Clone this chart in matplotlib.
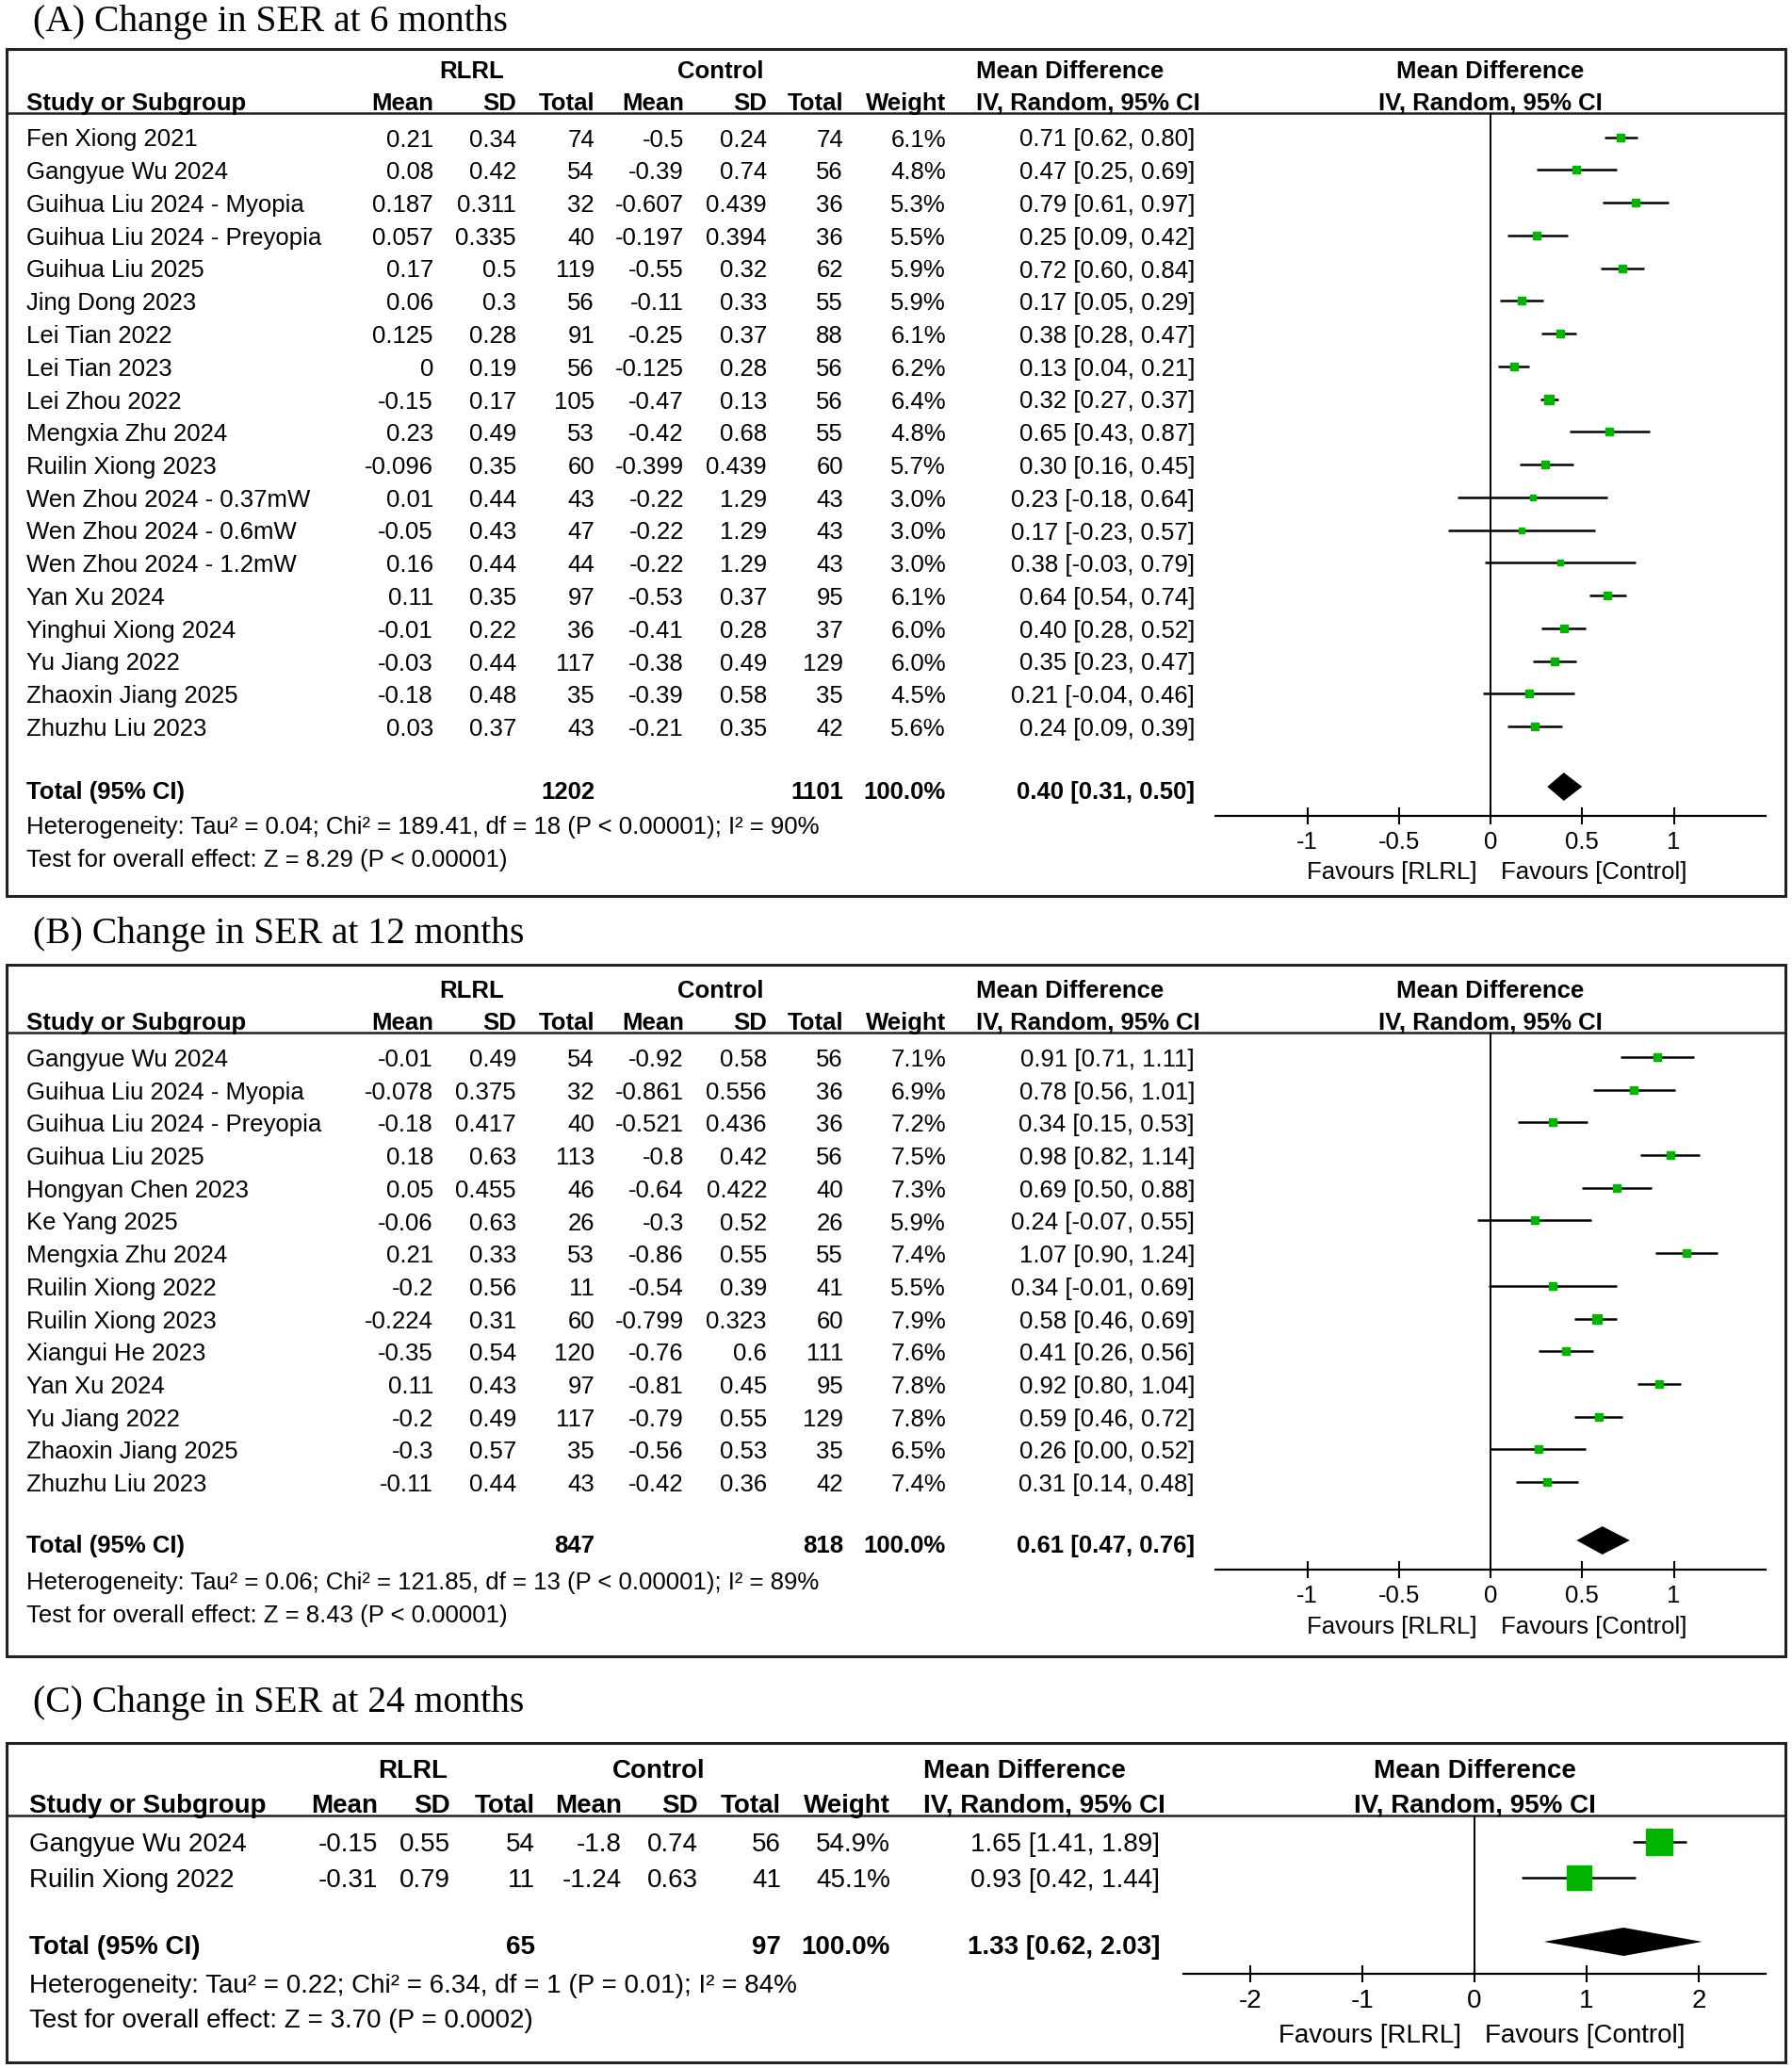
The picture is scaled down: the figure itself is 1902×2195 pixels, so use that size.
import matplotlib
matplotlib.use("Agg")
import matplotlib.pyplot as plt
from matplotlib.patches import Rectangle

# ===============================
# DATA
# ===============================
# (A) 6 months
studies_a = ["Fen Xiong 2021", "Gangyue Wu 2024", "Guihua Liu 2024 - Myopia",
             "Guihua Liu 2024 - Preyopia", "Guihua Liu 2025", "Jing Dong 2023",
             "Lei Tian 2022", "Lei Tian 2023", "Lei Zhou 2022", "Mengxia Zhu 2024",
             "Ruilin Xiong 2023", "Wen Zhou 2024 - 0.37mW", "Wen Zhou 2024 - 0.6mW",
             "Wen Zhou 2024 - 1.2mW", "Yan Xu 2024", "Yinghui Xiong 2024",
             "Yu Jiang 2022", "Zhaoxin Jiang 2025", "Zhuzhu Liu 2023"]
rlrl_mean_a = ["0.21", "0.08", "0.187", "0.057", "0.17", "0.06", "0.125", "0", "-0.15", "0.23",
               "-0.096", "0.01", "-0.05", "0.16", "0.11", "-0.01", "-0.03", "-0.18", "0.03"]
rlrl_sd_a = ["0.34", "0.42", "0.311", "0.335", "0.5", "0.3", "0.28", "0.19", "0.17", "0.49",
             "0.35", "0.44", "0.43", "0.44", "0.35", "0.22", "0.44", "0.48", "0.37"]
rlrl_n_a = [74, 54, 32, 40, 119, 56, 91, 56, 105, 53, 60, 43, 47, 44, 97, 36, 117, 35, 43]
ctrl_mean_a = ["-0.5", "-0.39", "-0.607", "-0.197", "-0.55", "-0.11", "-0.25", "-0.125", "-0.47",
               "-0.42", "-0.399", "-0.22", "-0.22", "-0.22", "-0.53", "-0.41", "-0.38", "-0.39", "-0.21"]
ctrl_sd_a = ["0.24", "0.74", "0.439", "0.394", "0.32", "0.33", "0.37", "0.28", "0.13", "0.68",
             "0.439", "1.29", "1.29", "1.29", "0.37", "0.28", "0.49", "0.58", "0.35"]
ctrl_n_a = [74, 56, 36, 36, 62, 55, 88, 56, 56, 55, 60, 43, 43, 43, 95, 37, 129, 35, 42]
weight_a = [6.1, 4.8, 5.3, 5.5, 5.9, 5.9, 6.1, 6.2, 6.4, 4.8, 5.7, 3.0, 3.0, 3.0, 6.1, 6.0, 6.0, 4.5, 5.6]
md_a = [0.71, 0.47, 0.79, 0.25, 0.72, 0.17, 0.38, 0.13, 0.32, 0.65, 0.30, 0.23, 0.17, 0.38,
        0.64, 0.40, 0.35, 0.21, 0.24]
lo_a = [0.62, 0.25, 0.61, 0.09, 0.60, 0.05, 0.28, 0.04, 0.27, 0.43, 0.16, -0.18, -0.23, -0.03,
        0.54, 0.28, 0.23, -0.04, 0.09]
hi_a = [0.80, 0.69, 0.97, 0.42, 0.84, 0.29, 0.47, 0.21, 0.37, 0.87, 0.45, 0.64, 0.57, 0.79,
        0.74, 0.52, 0.47, 0.46, 0.39]
total_a = [1202, 1101, 0.40, 0.31, 0.50]
het_a = "Heterogeneity: Tau\u00b2 = 0.04; Chi\u00b2 = 189.41, df = 18 (P < 0.00001); I\u00b2 = 90%"
test_a = "Test for overall effect: Z = 8.29 (P < 0.00001)"

# (B) 12 months
studies_b = ["Gangyue Wu 2024", "Guihua Liu 2024 - Myopia", "Guihua Liu 2024 - Preyopia",
             "Guihua Liu 2025", "Hongyan Chen 2023", "Ke Yang 2025", "Mengxia Zhu 2024",
             "Ruilin Xiong 2022", "Ruilin Xiong 2023", "Xiangui He 2023", "Yan Xu 2024",
             "Yu Jiang 2022", "Zhaoxin Jiang 2025", "Zhuzhu Liu 2023"]
rlrl_mean_b = ["-0.01", "-0.078", "-0.18", "0.18", "0.05", "-0.06", "0.21", "-0.2", "-0.224",
               "-0.35", "0.11", "-0.2", "-0.3", "-0.11"]
rlrl_sd_b = ["0.49", "0.375", "0.417", "0.63", "0.455", "0.63", "0.33", "0.56", "0.31", "0.54",
             "0.43", "0.49", "0.57", "0.44"]
rlrl_n_b = [54, 32, 40, 113, 46, 26, 53, 11, 60, 120, 97, 117, 35, 43]
ctrl_mean_b = ["-0.92", "-0.861", "-0.521", "-0.8", "-0.64", "-0.3", "-0.86", "-0.54", "-0.799",
               "-0.76", "-0.81", "-0.79", "-0.56", "-0.42"]
ctrl_sd_b = ["0.58", "0.556", "0.436", "0.42", "0.422", "0.52", "0.55", "0.39", "0.323", "0.6",
             "0.45", "0.55", "0.53", "0.36"]
ctrl_n_b = [56, 36, 36, 56, 40, 26, 55, 41, 60, 111, 95, 129, 35, 42]
weight_b = [7.1, 6.9, 7.2, 7.5, 7.3, 5.9, 7.4, 5.5, 7.9, 7.6, 7.8, 7.8, 6.5, 7.4]
md_b = [0.91, 0.78, 0.34, 0.98, 0.69, 0.24, 1.07, 0.34, 0.58, 0.41, 0.92, 0.59, 0.26, 0.31]
lo_b = [0.71, 0.56, 0.15, 0.82, 0.50, -0.07, 0.90, -0.01, 0.46, 0.26, 0.80, 0.46, 0.00, 0.14]
hi_b = [1.11, 1.01, 0.53, 1.14, 0.88, 0.55, 1.24, 0.69, 0.69, 0.56, 1.04, 0.72, 0.52, 0.48]
total_b = [847, 818, 0.61, 0.47, 0.76]
het_b = "Heterogeneity: Tau\u00b2 = 0.06; Chi\u00b2 = 121.85, df = 13 (P < 0.00001); I\u00b2 = 89%"
test_b = "Test for overall effect: Z = 8.43 (P < 0.00001)"

# (C) 24 months
studies_c = ["Gangyue Wu 2024", "Ruilin Xiong 2022"]
rlrl_mean_c = ["-0.15", "-0.31"]
rlrl_sd_c = ["0.55", "0.79"]
rlrl_n_c = [54, 11]
ctrl_mean_c = ["-1.8", "-1.24"]
ctrl_sd_c = ["0.74", "0.63"]
ctrl_n_c = [56, 41]
weight_c = [54.9, 45.1]
md_c = [1.65, 0.93]
lo_c = [1.41, 0.42]
hi_c = [1.89, 1.44]
total_c = [65, 97, 1.33, 0.62, 2.03]
het_c = "Heterogeneity: Tau\u00b2 = 0.22; Chi\u00b2 = 6.34, df = 1 (P = 0.01); I\u00b2 = 84%"
test_c = "Test for overall effect: Z = 3.70 (P = 0.0002)"

ticks_ab = [-1, -0.5, 0, 0.5, 1]
tick_labels_ab = ["-1", "-0.5", "0", "0.5", "1"]
ticks_c = [-2, -1, 0, 1, 2]
tick_labels_c = ["-2", "-1", "0", "1", "2"]

# ===============================
# LAYOUT (pixels)
# ===============================
W, H = 1902, 2195
SANS = "Liberation Sans"
SERIF = "Liberation Serif"
GREEN = "#00b400"
DY = 3  # small downward nudge so text sits like the reference

fig = plt.figure(figsize=(W / 100, H / 100), dpi=100)
ax = fig.add_axes([0, 0, 1, 1])
ax.set_xlim(0, W)
ax.set_ylim(H, 0)
ax.axis("off")


def draw_panel(title, lay, rows, total, het, test, ticks, tick_labels):
    fs = lay["fs"]
    x_l, x_r = 7, 1895
    # title + frame
    ax.text(35, lay["title_y"] + DY, title, family=SERIF, fontsize=28.5, va="center", ha="left")
    ax.add_patch(Rectangle((x_l, lay["top"]), x_r - x_l, lay["bottom"] - lay["top"],
                           fill=False, lw=2.2, ec="#222222"))
    ax.plot([x_l, x_r], [lay["line_y"], lay["line_y"]], color="#222222", lw=1.8)

    c = lay["col_r"]
    # group headers
    hb = dict(family=SANS, fontsize=fs, fontweight="bold", va="center")
    gy = lay["grp_y"] + DY
    ax.text(lay["grp_c"][0], gy, "RLRL", ha="center", **hb)
    ax.text(lay["grp_c"][1], gy, "Control", ha="center", **hb)
    ax.text(lay["md_l"], gy, "Mean Difference", ha="left", **hb)
    ax.text(lay["zero_x"], gy, "Mean Difference", ha="center", **hb)
    # column headers
    hy = lay["hdr_y"] + DY
    ax.text(lay["study_x"], hy, "Study or Subgroup", ha="left", **hb)
    for x, lab in zip(c[:7], ["Mean", "SD", "Total", "Mean", "SD", "Total", "Weight"]):
        ax.text(x, hy, lab, ha="right", **hb)
    ax.text(lay["md_l"], hy, "IV, Random, 95% CI", ha="left", **hb)
    ax.text(lay["zero_x"], hy, "IV, Random, 95% CI", ha="center", **hb)

    # rows
    names, m1, s1, n1, m2, s2, n2, wt, md, lo, hi = rows
    tr = dict(family=SANS, fontsize=fs, va="center")
    ys = [lay["row0"] + i * lay["step"] for i in range(len(names))]
    for i, y in enumerate(ys):
        ax.text(lay["study_x"], y + DY, names[i], ha="left", **tr)
        vals = [m1[i], s1[i], str(n1[i]), m2[i], s2[i], str(n2[i]), f"{wt[i]:.1f}%",
                f"{md[i]:.2f} [{lo[i]:.2f}, {hi[i]:.2f}]"]
        for x, v in zip(c, vals):
            ax.text(x, y + DY, v, ha="right", **tr)

    # total row
    ty = lay["total_y"]
    ax.text(lay["study_x"], ty + DY, "Total (95% CI)", ha="left", **hb)
    ax.text(c[2], ty + DY, str(total[0]), ha="right", **hb)
    ax.text(c[5], ty + DY, str(total[1]), ha="right", **hb)
    ax.text(c[6], ty + DY, "100.0%", ha="right", **hb)
    ax.text(c[7], ty + DY, f"{total[2]:.2f} [{total[3]:.2f}, {total[4]:.2f}]", ha="right", **hb)
    ax.text(lay["study_x"], lay["het_y"] + DY, het, ha="left", **tr)
    ax.text(lay["study_x"], lay["test_y"] + DY, test, ha="left", **tr)

    # forest plot axes
    half, unit, z = lay["half"], lay["unit"], lay["zero_x"]
    left_px = z - half * unit
    fa = fig.add_axes([left_px / W, 1 - lay["axis_y"] / H, 2 * half * unit / W,
                       (lay["axis_y"] - lay["line_y"]) / H])
    fa.set_xlim(-half, half)
    fa.set_ylim(lay["axis_y"], lay["line_y"])
    fa.patch.set_alpha(0)
    for s in ["left", "right", "top"]:
        fa.spines[s].set_visible(False)
    fa.spines["bottom"].set_linewidth(1.6)
    fa.set_yticks([])
    fa.set_xticks(ticks)
    fa.set_xticklabels(tick_labels, family=SANS, fontsize=fs)
    fa.tick_params(axis="x", direction="inout", length=13, width=1.5, pad=5)
    fa.plot([0, 0], [lay["line_y"], lay["axis_y"]], color="black", lw=1.4)

    wmax = max(wt)
    for i, y in enumerate(ys):
        fa.plot([lo[i], hi[i]], [y, y], color="black", lw=1.8, solid_capstyle="butt")
        fa.plot(md[i], y, marker="s", ls="none", color=GREEN, mec=GREEN,
                ms=lay["box_ms"] * (wt[i] / wmax) ** 0.5)
    dy = 15
    dyc = ty - 3
    fa.fill([total[3], total[2], total[4], total[2]], [dyc, dyc - dy, dyc, dyc + dy],
            color="black", lw=0)

    ax.text(z - 14, lay["fav_y"] + DY, "Favours [RLRL]", ha="right", **tr)
    ax.text(z + 11, lay["fav_y"] + DY, "Favours [Control]", ha="left", **tr)


lay_a = dict(fs=18.5, top=52, bottom=951, title_y=20, grp_y=73, hdr_y=107, line_y=120,
             row0=145.5, step=34.75, total_y=838, het_y=875, test_y=910, axis_y=866, fav_y=923,
             study_x=28, col_r=[460, 548, 631, 726, 814, 895, 1004, 1268], md_l=1036,
             grp_c=[501, 765], zero_x=1582, unit=194.5, half=1.5, box_ms=6.5)
lay_b = dict(lay_a, top=1024, bottom=1758, title_y=989, grp_y=1049, hdr_y=1083, line_y=1096,
             row0=1122, step=34.7, total_y=1638, het_y=1677, test_y=1712, axis_y=1666, fav_y=1724)
lay_c = dict(fs=20, top=1850, bottom=2189, title_y=1804, grp_y=1877, hdr_y=1914, line_y=1927,
             row0=1955, step=38, total_y=2064, het_y=2105, test_y=2142, axis_y=2095, fav_y=2158,
             study_x=31, col_r=[401, 478, 568, 660, 741, 829, 945, 1231], md_l=980,
             grp_c=[438, 699], zero_x=1565, unit=119, half=2.6, box_ms=20)

draw_panel("(A) Change in SER at 6 months", lay_a,
           (studies_a, rlrl_mean_a, rlrl_sd_a, rlrl_n_a, ctrl_mean_a, ctrl_sd_a, ctrl_n_a,
            weight_a, md_a, lo_a, hi_a), total_a, het_a, test_a, ticks_ab, tick_labels_ab)
draw_panel("(B) Change in SER at 12 months", lay_b,
           (studies_b, rlrl_mean_b, rlrl_sd_b, rlrl_n_b, ctrl_mean_b, ctrl_sd_b, ctrl_n_b,
            weight_b, md_b, lo_b, hi_b), total_b, het_b, test_b, ticks_ab, tick_labels_ab)
draw_panel("(C) Change in SER at 24 months", lay_c,
           (studies_c, rlrl_mean_c, rlrl_sd_c, rlrl_n_c, ctrl_mean_c, ctrl_sd_c, ctrl_n_c,
            weight_c, md_c, lo_c, hi_c), total_c, het_c, test_c, ticks_c, tick_labels_c)

fig.savefig("out.png", dpi=100)
